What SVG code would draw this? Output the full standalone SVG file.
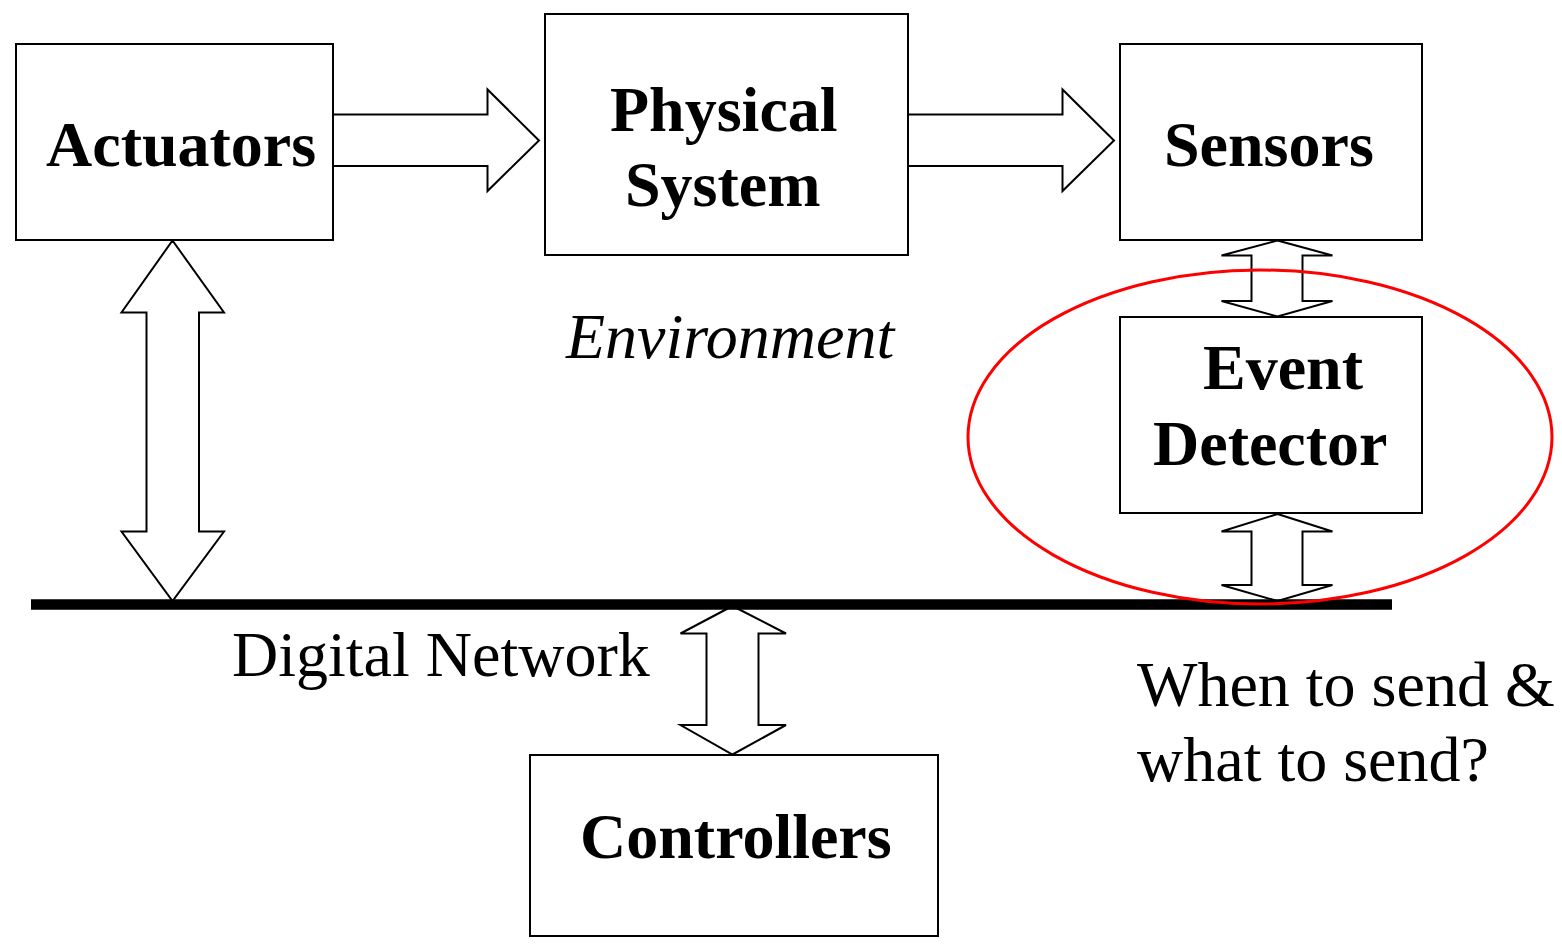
<svg xmlns="http://www.w3.org/2000/svg" width="1562" height="945" viewBox="0 0 1562 945">
<style>
.box{fill:#fff;stroke:#000;stroke-width:2}
.arr{fill:#fff;stroke:#000;stroke-width:2;stroke-linejoin:miter}
.lbl{font-family:"Liberation Serif","Times New Roman",serif;font-size:64px;font-weight:bold;fill:#000}
.txt{font-family:"Liberation Serif","Times New Roman",serif;font-size:64px;fill:#000}
</style>
<rect width="1562" height="945" fill="#fff"/>
<g id="connectors">
<polygon class="arr" points="333,114.5 487.5,114.5 487.5,89.5 539,140.5 487.5,191 487.5,166 333,166"/>
<polygon class="arr" points="908,114.5 1062.5,114.5 1062.5,89.5 1114,140.5 1062.5,191 1062.5,166 908,166"/>
<polygon class="arr" points="172.5,240.5 224,312.5 199,312.5 199,531.5 224,531.5 172.5,601 121.5,531.5 146.5,531.5 146.5,312.5 121.5,312.5"/>
<polygon class="arr" points="1277.5,240.5 1332.5,255.5 1302.5,255.5 1302.5,301 1332.5,301 1277.5,316.5 1221.5,301 1251.5,301 1251.5,255.5 1221.5,255.5"/>
<polygon class="arr" points="1277.5,514 1332.5,531.5 1302.5,531.5 1302.5,585 1332.5,585 1277.5,601 1221.5,585 1251.5,585 1251.5,531.5 1221.5,531.5"/>
<polygon class="arr" points="732.5,606 786,633.5 758.5,633.5 758.5,725 786,725 732.5,754.5 680.5,725 706.5,725 706.5,633.5 680.5,633.5"/>
<line x1="31" y1="604.5" x2="1392" y2="604.5" stroke="#000" stroke-width="10.5"/>
</g>
<g id="actuators">
<rect class="box" x="16" y="44" width="317" height="196"/>
<text class="lbl" x="46" y="166">Actuators</text>
</g>
<g id="physical-system">
<rect class="box" x="545" y="14" width="363" height="241"/>
<text class="lbl" x="610" y="131">Physical</text>
<text class="lbl" x="625" y="206">System</text>
</g>
<g id="sensors">
<rect class="box" x="1120" y="44" width="302" height="196"/>
<text class="lbl" x="1164" y="166">Sensors</text>
</g>
<g id="event-detector">
<rect class="box" x="1120" y="317" width="302" height="196"/>
<text class="lbl" x="1203" y="389">Event</text>
<text class="lbl" x="1153" y="465">Detector</text>
</g>
<g id="controllers">
<rect class="box" x="530" y="755" width="408" height="181"/>
<text class="lbl" x="580" y="858">Controllers</text>
</g>
<g id="labels">
<text class="txt" x="566" y="358" font-style="italic">Environment</text>
<text class="txt" x="232" y="676">Digital Network</text>
<text class="txt" x="1137" y="706">When to send &amp;</text>
<text class="txt" x="1137" y="781">what to send?</text>
</g>
<g id="highlight">
<ellipse cx="1260" cy="437" rx="292" ry="167" fill="none" stroke="#f00" stroke-width="3"/>
</g>
</svg>
